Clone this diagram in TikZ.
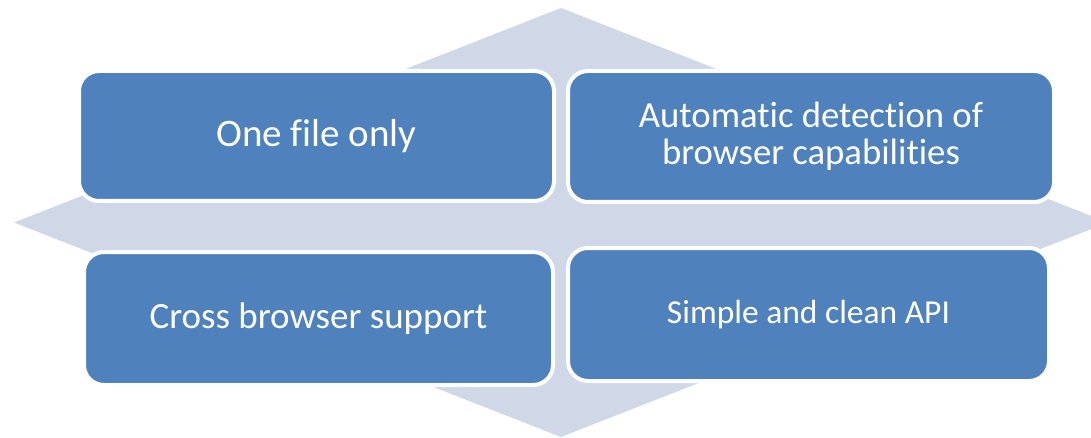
\documentclass[tikz,border=0pt]{standalone}
\usepackage{fontspec}
\setmainfont{Carlito}[Ligatures=NoCommon]
\definecolor{cellblue}{RGB}{79,129,189}
\definecolor{arrowbg}{RGB}{208,216,232}
\tikzstyle{cell} = [draw=white, fill=cellblue, line width=4pt, rounded corners=20pt, text=white, align=center, inner sep=0pt]

\begin{document}
\begin{tikzpicture}[x=1pt, y=-1pt]
  \useasboundingbox (0,0) rectangle (1091,438);
  \clip (0,0) rectangle (1091,438);
  % four-way arrow behind the cells
  \fill[arrowbg] (14,222.5) -- (260,126) -- (260,174.5) -- (438,174.5) -- (438,104.5) -- (315,104.5)
    -- (561,8) -- (807,104.5) -- (684,104.5) -- (684,174.5) -- (862,174.5) -- (862,126)
    -- (1108,222.5) -- (862,319) -- (862,270.5) -- (684,270.5) -- (684,340.5) -- (807,340.5)
    -- (561,437) -- (315,340.5) -- (438,340.5) -- (438,270.5) -- (260,270.5) -- (260,319) -- cycle;

  \node[cell, minimum width=475pt, minimum height=130pt, font=\fontsize{39}{44}\selectfont] (onefile) at (316.5,136) {One file only};
  \node[cell, minimum width=486pt, minimum height=131pt, font=\fontsize{36.7}{37}\selectfont] (detection) at (811,136.5) {Automatic detection of\\browser capabilities};
  \node[cell, minimum width=469pt, minimum height=133pt, font=\fontsize{37}{42}\selectfont] (crossbrowser) at (318.5,318.5) {Cross browser support};
  \node[cell, minimum width=481pt, minimum height=133pt, font=\fontsize{33.5}{38}\selectfont] (cleanapi) at (808.5,314.5) {Simple and clean API};
\end{tikzpicture}
\end{document}
